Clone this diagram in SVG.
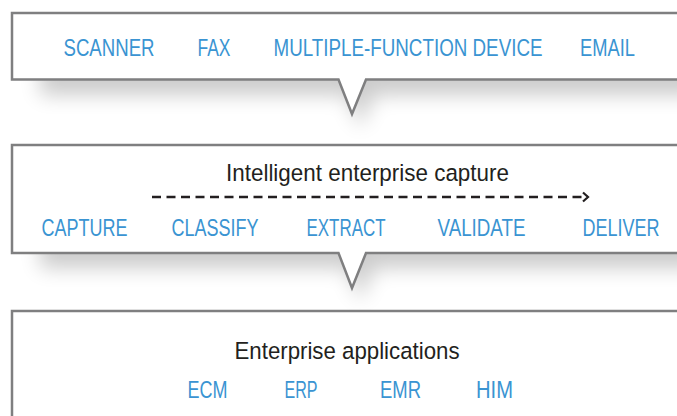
<svg xmlns="http://www.w3.org/2000/svg" width="677" height="416" viewBox="0 0 677 416">
<style>
.box{fill:#fff;stroke:#7f7f80;stroke-width:2.5;stroke-linejoin:miter}
.shadow{fill:#000;opacity:0.2;filter:url(#blur)}
.lbl{font-family:"Liberation Sans",Arial,sans-serif;font-size:24.5px;fill:#3a94d2}
.ttl{font-family:"Liberation Sans",Arial,sans-serif;font-size:24.5px;fill:#231f20}
.flow{fill:none;stroke:#231f20;stroke-width:2.4}
</style>
<defs>
<filter id="blur" x="-20%" y="-50%" width="140%" height="200%"><feGaussianBlur stdDeviation="10"/></filter>
<marker id="chev" viewBox="0 0 10 12" refX="8" refY="6" markerWidth="10" markerHeight="12" markerUnits="userSpaceOnUse" orient="auto">
<path d="M3,1.5 L8,6 L3,10.5" fill="none" stroke="#231f20" stroke-width="2.2"/>
</marker>
</defs>
<rect width="677" height="416" fill="#fff"/>

<g id="sources">
<path class="shadow" d="M40,40 H700 V95 H374 L360,128 L347,95 H40 Z"/>
<path class="box" d="M12,13 H690 V79.5 H366 L352,114 L338.5,79.5 H12 Z"/>
<text class="lbl" x="63.5" y="56" textLength="91" lengthAdjust="spacingAndGlyphs">SCANNER</text>
<text class="lbl" x="197.5" y="56" textLength="33" lengthAdjust="spacingAndGlyphs">FAX</text>
<text class="lbl" x="273.5" y="56" textLength="269" lengthAdjust="spacingAndGlyphs">MULTIPLE-FUNCTION DEVICE</text>
<text class="lbl" x="580" y="56" textLength="55" lengthAdjust="spacingAndGlyphs">EMAIL</text>
</g>

<g id="capture">
<path class="shadow" d="M40,175 H700 V268 H374 L360,301 L347,268 H40 Z"/>
<path class="box" d="M12,145 H690 V253 H366 L352,288 L338.5,253 H12 Z"/>
<text class="ttl" x="226" y="180.5" textLength="283" lengthAdjust="spacingAndGlyphs">Intelligent enterprise capture</text>
<text class="lbl" x="41.5" y="236" textLength="86" lengthAdjust="spacingAndGlyphs">CAPTURE</text>
<text class="lbl" x="171.5" y="236" textLength="87" lengthAdjust="spacingAndGlyphs">CLASSIFY</text>
<text class="lbl" x="306.5" y="236" textLength="79" lengthAdjust="spacingAndGlyphs">EXTRACT</text>
<text class="lbl" x="437.5" y="236" textLength="88" lengthAdjust="spacingAndGlyphs">VALIDATE</text>
<text class="lbl" x="582.5" y="236" textLength="77" lengthAdjust="spacingAndGlyphs">DELIVER</text>
</g>

<g id="applications">
<path class="box" d="M12,311 H690 V440 H12 Z"/>
<text class="ttl" x="234.5" y="359" textLength="225" lengthAdjust="spacingAndGlyphs">Enterprise applications</text>
<text class="lbl" x="187.5" y="398" textLength="40" lengthAdjust="spacingAndGlyphs">ECM</text>
<text class="lbl" x="284.5" y="398" textLength="33" lengthAdjust="spacingAndGlyphs">ERP</text>
<text class="lbl" x="380" y="398" textLength="41" lengthAdjust="spacingAndGlyphs">EMR</text>
<text class="lbl" x="476" y="398" textLength="37" lengthAdjust="spacingAndGlyphs">HIM</text>
</g>

<g id="connectors">
<path class="flow" d="M152,197 H588" stroke-dasharray="9,5.5" marker-end="url(#chev)"/>
</g>
</svg>
